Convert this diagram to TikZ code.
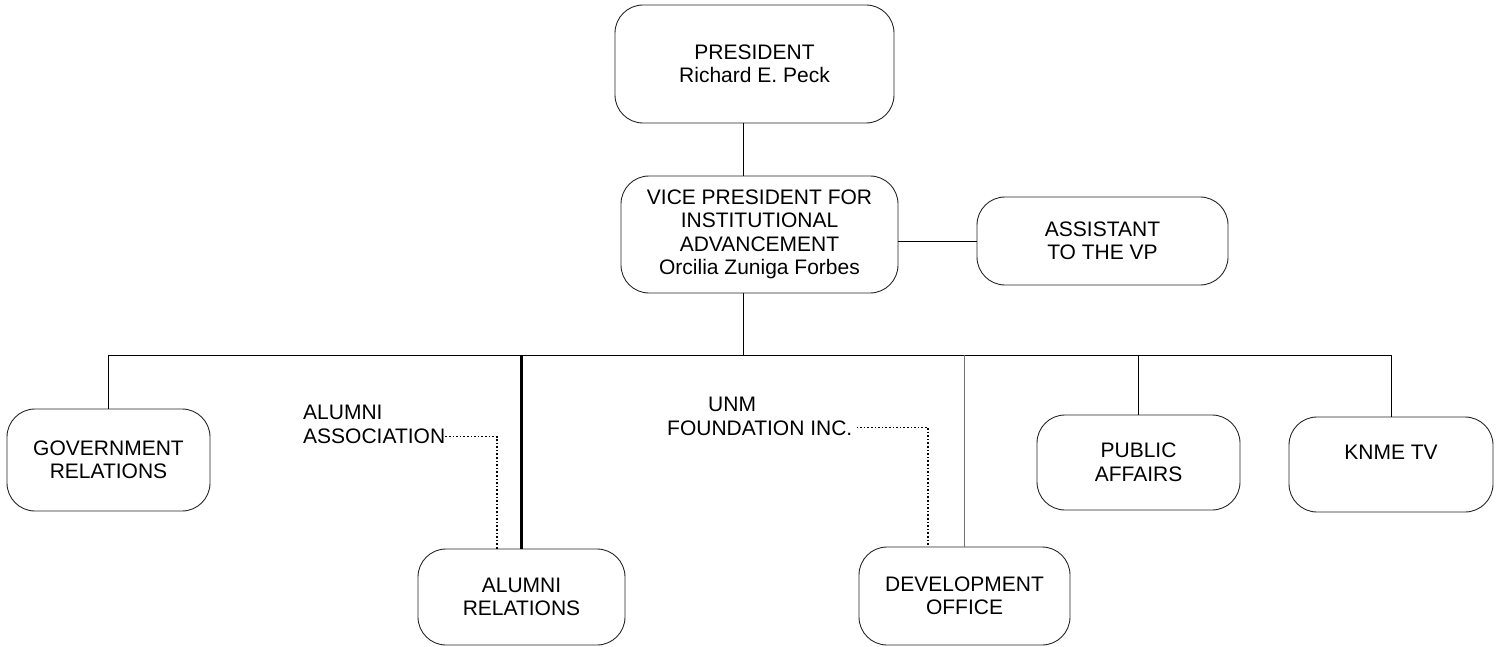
\documentclass[tikz,border=0pt]{standalone}
\usepackage{fontspec}
\setmainfont{Liberation Sans}
\begin{document}
\begin{tikzpicture}[x=1pt,y=-1pt,
    caja/.style={draw=black!85, line width=0.9pt, rounded corners=28pt, align=center,
      inner sep=0pt, font=\fontsize{21}{23.5}\selectfont},
    linea/.style={line width=0.9pt},
    punteado/.style={dotted, line width=1.6pt},
    etiqueta/.style={align=left, inner sep=0pt, anchor=north west,
      font=\fontsize{21}{23.5}\selectfont}]
    \useasboundingbox (0,0) rectangle (1502,647);

    % Dirección
    \node[caja, minimum width=279pt, minimum height=118pt] (pres) at (754.5,64) {PRESIDENT\\Richard E. Peck};
    \node[caja, minimum width=277pt, minimum height=117pt] (vp) at (759.5,234.5)
      {VICE PRESIDENT FOR\\INSTITUTIONAL\\ADVANCEMENT\\Orcilia Zuniga Forbes};
    \node[caja, minimum width=251pt, minimum height=88pt] (asst) at (1102.5,241) {ASSISTANT\\TO THE VP};

    % Oficinas
    \node[caja, minimum width=203pt, minimum height=102pt] (gov) at (108.5,460) {GOVERNMENT\\RELATIONS};
    \node[caja, minimum width=207pt, minimum height=96pt] (alrel) at (521.5,597) {ALUMNI\\RELATIONS};
    \node[caja, minimum width=211pt, minimum height=98pt] (dev) at (964.5,596) {DEVELOPMENT\\OFFICE};
    \node[caja, minimum width=203pt, minimum height=95pt] (pub) at (1138.5,462.5) {PUBLIC\\AFFAIRS};
    \node[caja, minimum width=204pt, minimum height=95pt] (knme) at (1391,464.5) {KNME TV\\~};

    % Entidades asociadas
    \node[etiqueta] (alass) at (303,405) {ALUMNI\\ASSOCIATION};
    \node[etiqueta] (unm) at (667,397) {\hspace*{41pt}UNM\\FOUNDATION INC.};

    % Líneas de mando
    \coordinate (bus) at (743,355);
    \draw[linea] (pres.south -| bus) -- (vp.north -| bus);
    \draw[linea] (vp.south -| bus) -- (bus);
    \draw[linea] (asst.west -| vp.east) -- (asst.west);
    \draw[linea] (gov.north |- bus) -- (knme.north |- bus);
    \foreach \n in {gov,pub,knme}
      \draw[linea] (\n.north |- bus) -- (\n.north);
    \draw[line width=2.2pt] (alrel.north |- bus) -- (alrel.north);
    \draw[line width=1.4pt, black!55] (dev.north |- bus) -- (dev.north);

    % Relaciones punteadas
    \draw[punteado] ([yshift=7pt]alass.south east) -| ([xshift=-24.5pt]alrel.north);
    \draw[punteado] ([shift={(4pt,8pt)}]unm.south east) -| ([xshift=-36.5pt]dev.north);
\end{tikzpicture}
\end{document}
